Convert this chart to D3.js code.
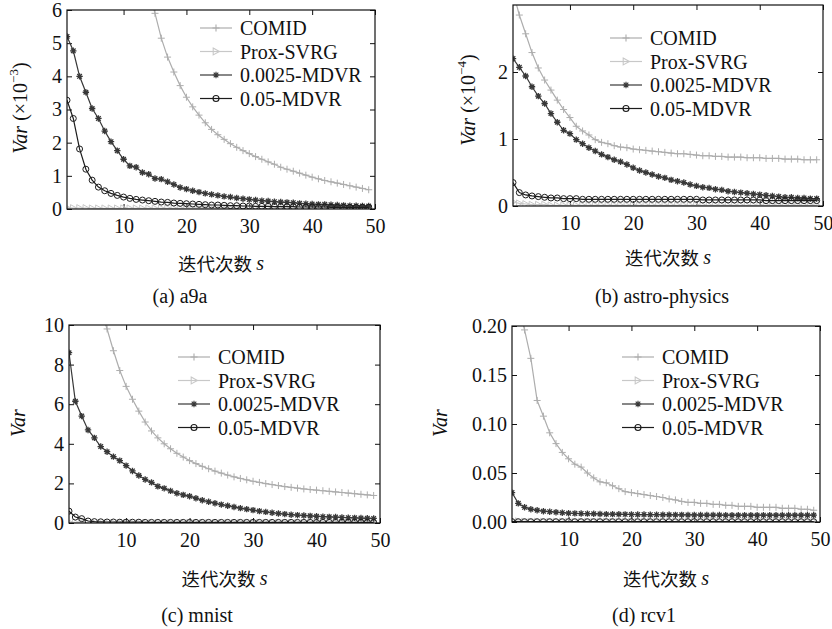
<!DOCTYPE html>
<html>
<head>
<meta charset="utf-8">
<script src="https://cdn.jsdelivr.net/npm/d3@7"></script>
<style>
  body { margin: 0; background: #fff; }
</style>
</head>
<body>
<svg id="chart" width="832" height="629"></svg>
<script>
const SERIF = '"Liberation Serif", "Times New Roman", serif';
const CJK = '"Noto Sans CJK SC", sans-serif';

// iteration s = 1..49, x axis runs 1..50
const iterations = d3.range(1, 50);
const seriesNames = ["COMID", "Prox-SVRG", "0.0025-MDVR", "0.05-MDVR"];

// --- (a) a9a, Var x 1e-3 ---
const a9aComid = [null,null,null,null,null,null,null,null,null,null,null,null,null,
  6.6,5.9,5.15,4.58,4.13,3.72,3.37,3.08,2.83,2.6,2.4,2.24,2.1,1.97,1.86,1.76,1.67,1.58,1.5,1.42,
  1.35,1.26,1.2,1.14,1.08,1.02,0.96,0.91,0.86,0.82,0.78,0.74,0.7,0.66,0.62,0.58];
const a9aProx = [0.04,0.03,0.03,0.03,0.02,0.02,0.02,0.02,0.02,0.02,
  0.02,0.02,0.02,0.02,0.02,0.02,0.02,0.02,0.02,0.02,
  0.02,0.02,0.02,0.02,0.02,0.02,0.02,0.02,0.02,0.01,
  0.01,0.01,0.01,0.01,0.01,0.01,0.01,0.01,0.01,0.01,
  0.01,0.01,0.01,0.01,0.01,0.01,0.01,0.01,0.01];
const a9aM0025 = [5.2,4.77,4.0,3.52,3.03,2.73,2.35,2.03,1.76,1.5,
  1.3,1.26,1.1,1.05,0.92,0.9,0.82,0.74,0.65,0.6,
  0.55,0.51,0.47,0.44,0.41,0.38,0.36,0.33,0.31,0.29,
  0.27,0.25,0.24,0.22,0.21,0.2,0.19,0.17,0.16,0.15,
  0.14,0.14,0.13,0.12,0.11,0.1,0.1,0.09,0.09];
const a9aM005 = [3.28,2.73,1.81,1.2,0.87,0.66,0.55,0.47,0.41,0.36,
  0.32,0.29,0.27,0.25,0.23,0.21,0.2,0.18,0.17,0.16,
  0.15,0.14,0.13,0.12,0.12,0.11,0.1,0.1,0.09,0.09,
  0.08,0.08,0.08,0.07,0.07,0.07,0.07,0.06,0.06,0.06,
  0.06,0.06,0.05,0.05,0.05,0.05,0.05,0.05,0.05];

// --- (b) astro-physics, Var x 1e-4 ---
const astroComid = [3.2,2.85,2.57,2.29,2.06,1.88,1.73,1.58,1.44,1.32,
  1.19,1.12,1.06,0.99,0.95,0.93,0.9,0.88,0.87,0.85,
  0.84,0.83,0.82,0.81,0.8,0.79,0.78,0.78,0.77,0.76,
  0.75,0.75,0.74,0.74,0.73,0.73,0.73,0.72,0.72,0.72,
  0.71,0.71,0.71,0.7,0.7,0.7,0.69,0.69,0.69];
const astroProx = [0.06,0.04,0.03,0.02,0.02,0.02,0.01,0.01,0.01,0.01,
  0.01,0.01,0.01,0.01,0.01,0.01,0.01,0.01,0.01,0.01,
  0.01,0.01,0.01,0.01,0.01,0.01,0.01,0.01,0.01,0.01,
  0.01,0.01,0.01,0.01,0.01,0.01,0.01,0.01,0.01,0.01,
  0.01,0.01,0.01,0.01,0.01,0.01,0.01,0.01,0.01];
const astroM0025 = [2.2,2.07,1.94,1.78,1.64,1.53,1.38,1.25,1.13,1.08,
  0.99,0.93,0.87,0.82,0.77,0.73,0.69,0.66,0.62,0.57,
  0.53,0.5,0.47,0.44,0.42,0.39,0.37,0.35,0.32,0.3,
  0.28,0.27,0.25,0.24,0.22,0.21,0.2,0.19,0.18,0.17,
  0.16,0.15,0.14,0.13,0.13,0.12,0.12,0.11,0.11];
const astroM005 = [0.35,0.2,0.165,0.15,0.14,0.13,0.12,0.12,0.11,0.11,
  0.11,0.1,0.1,0.1,0.1,0.1,0.1,0.1,0.1,0.1,
  0.1,0.1,0.1,0.1,0.1,0.1,0.1,0.1,0.1,0.1,
  0.09,0.09,0.09,0.09,0.09,0.09,0.09,0.09,0.09,0.09,
  0.08,0.08,0.08,0.08,0.08,0.08,0.08,0.08,0.08];

// --- (c) mnist ---
const mnistComid = [null,null,null,null,null,10.8,9.8,8.7,7.7,6.9,
  6.25,5.65,5.1,4.65,4.3,4.0,3.75,3.52,3.33,3.15,
  3.0,2.86,2.74,2.62,2.52,2.42,2.33,2.25,2.18,2.11,
  2.05,1.99,1.94,1.89,1.84,1.8,1.76,1.72,1.69,1.66,
  1.63,1.6,1.57,1.54,1.51,1.48,1.45,1.42,1.39];
const mnistProx = [0.05,0.03,0.02,0.02,0.01,0.01,0.01,0.01,0.01,0.01,
  0.01,0.01,0.01,0.01,0.01,0.01,0.01,0.01,0.01,0.01,
  0.01,0.01,0.01,0.01,0.01,0.01,0.01,0.01,0.01,0.01,
  0.01,0.01,0.01,0.01,0.01,0.01,0.01,0.01,0.01,0.01,
  0.01,0.01,0.01,0.01,0.01,0.01,0.01,0.01,0.01];
const mnistM0025 = [8.6,6.15,5.4,4.7,4.3,3.86,3.6,3.35,3.15,2.9,
  2.63,2.4,2.2,2.05,1.85,1.75,1.62,1.5,1.42,1.35,
  1.25,1.15,1.07,1.0,0.93,0.87,0.81,0.75,0.7,0.65,
  0.6,0.56,0.52,0.48,0.45,0.42,0.4,0.38,0.36,0.34,
  0.32,0.31,0.3,0.28,0.27,0.26,0.25,0.24,0.23];
const mnistM005 = [0.6,0.3,0.22,0.1,0.07,0.06,0.05,0.05,0.04,0.04,
  0.04,0.04,0.03,0.03,0.03,0.03,0.03,0.03,0.03,0.03,
  0.03,0.03,0.03,0.03,0.03,0.03,0.03,0.03,0.03,0.03,
  0.03,0.03,0.03,0.03,0.03,0.03,0.03,0.03,0.03,0.03,
  0.03,0.03,0.03,0.03,0.03,0.03,0.03,0.03,0.03];

// --- (d) rcv1 ---
const rcv1Comid = [0.27,0.22,0.196,0.167,0.124,0.108,0.091,0.08,0.071,0.0645,
  0.059,0.056,0.05,0.045,0.041,0.04,0.037,0.034,0.031,0.03,
  0.029,0.028,0.027,0.026,0.025,0.0235,0.0225,0.021,0.02,0.02,
  0.019,0.019,0.018,0.018,0.017,0.017,0.016,0.016,0.016,0.015,
  0.015,0.015,0.015,0.014,0.014,0.014,0.013,0.013,0.012];
const rcv1Prox = [0.001,0.0008,0.0006,0.0005,0.0005,0.0005,0.0005,0.0005,0.0005,0.0005,
  0.0005,0.0005,0.0005,0.0005,0.0005,0.0005,0.0005,0.0005,0.0005,0.0005,
  0.0005,0.0005,0.0005,0.0005,0.0005,0.0005,0.0005,0.0005,0.0005,0.0005,
  0.0005,0.0005,0.0005,0.0005,0.0005,0.0005,0.0005,0.0005,0.0005,0.0005,
  0.0005,0.0005,0.0005,0.0005,0.0005,0.0005,0.0005,0.0005,0.0005];
const rcv1M0025 = [0.03,0.019,0.015,0.013,0.012,0.011,0.0105,0.01,0.0095,0.009,
  0.0088,0.0086,0.0085,0.0084,0.0082,0.008,0.008,0.0079,0.0078,0.0077,
  0.0076,0.0076,0.0075,0.0075,0.0074,0.0074,0.0073,0.0073,0.0072,0.0072,
  0.0071,0.0071,0.0071,0.0071,0.007,0.007,0.007,0.007,0.007,0.007,
  0.007,0.007,0.007,0.007,0.007,0.007,0.007,0.007,0.007];
const rcv1M005 = [0.0004,0.0003,0.0003,0.0003,0.0003,0.0003,0.0003,0.0003,0.0003,0.0003,
  0.0003,0.0003,0.0003,0.0003,0.0003,0.0003,0.0003,0.0003,0.0003,0.0003,
  0.0003,0.0003,0.0003,0.0003,0.0003,0.0003,0.0003,0.0003,0.0003,0.0003,
  0.0003,0.0003,0.0003,0.0003,0.0003,0.0003,0.0003,0.0003,0.0003,0.0003,
  0.0003,0.0003,0.0003,0.0003,0.0003,0.0003,0.0003,0.0003,0.0003];

const xTicks = [10, 20, 30, 40, 50];
const captions = ["(a) a9a", "(b) astro-physics", "(c) mnist", "(d) rcv1"];

// style per series
const styles = [
  {color: "#adadad", marker: "plus"},
  {color: "#c8c8c8", marker: "tri"},
  {color: "#383838", marker: "star"},
  {color: "#1c1c1c", marker: "circle"}
];

const markerPath = {
  plus: "M-3.5,0H3.5M0,-3.5V3.5",
  tri: "M-2.8,-3.4L3.4,0L-2.8,3.4Z",
  star: "M-3.2,0H3.2M0,-3.2V3.2M-2.3,-2.3L2.3,2.3M-2.3,2.3L2.3,-2.3",
  circle: "M3,0A3,3 0 1,1 -3,0A3,3 0 1,1 3,0Z"
};

const panels = [
  {id: "a", left: 67, right: 375, top: 10, bottom: 209, yDomain: [0, 6], yTicks: [0,1,2,3,4,5,6], fmt: d3.format("d"),
   exp: "−3", legX: 200, legY: 28, yLabX: 20, yLabY: 108, xLabY: 263, capX: 180, capY: 296,
   data: [a9aComid, a9aProx, a9aM0025, a9aM005]},
  {id: "b", left: 513, right: 823, top: 5, bottom: 206, yDomain: [0, 3], yTicks: [0,1,2], fmt: d3.format("d"),
   exp: "−4", legX: 610, legY: 38, yLabX: 468, yLabY: 100, xLabY: 257, capX: 662, capY: 296,
   data: [astroComid, astroProx, astroM0025, astroM005]},
  {id: "c", left: 69, right: 380, top: 325, bottom: 523, yDomain: [0, 10], yTicks: [0,2,4,6,8,10], fmt: d3.format("d"),
   exp: null, legX: 178, legY: 357, yLabX: 18, yLabY: 423, xLabY: 578, capX: 197, capY: 615,
   data: [mnistComid, mnistProx, mnistM0025, mnistM005]},
  {id: "d", left: 512, right: 820, top: 326, bottom: 522, yDomain: [0, 0.2], yTicks: [0,0.05,0.1,0.15,0.2], fmt: d3.format(".2f"),
   exp: null, legX: 622, legY: 357, yLabX: 440, yLabY: 423, xLabY: 578, capX: 644, capY: 615,
   data: [rcv1Comid, rcv1Prox, rcv1M0025, rcv1M005]}
];

const svg = d3.select("#chart");
svg.append("rect").attr("width", 832).attr("height", 629).attr("fill", "#fff");

panels.forEach((p, i) => drawPanel(p, captions[i]));

function drawPanel(p, caption) {
  const x = d3.scaleLinear().domain([1, 50]).range([p.left, p.right]);
  const y = d3.scaleLinear().domain(p.yDomain).range([p.bottom, p.top]);
  const g = svg.append("g");

  g.append("clipPath").attr("id", "clip-" + p.id)
    .append("rect")
    .attr("x", p.left).attr("y", p.top)
    .attr("width", p.right - p.left).attr("height", p.bottom - p.top);

  // axes, ticks pointing inward on all four sides
  g.append("g").attr("transform", `translate(0,${p.bottom})`)
    .call(d3.axisBottom(x).tickValues(xTicks).tickSize(-5).tickPadding(10));
  g.append("g").attr("transform", `translate(${p.left},0)`)
    .call(d3.axisLeft(y).tickValues(p.yTicks).tickFormat(p.fmt).tickSize(-5).tickPadding(5));
  g.append("g").attr("transform", `translate(0,${p.top})`)
    .call(d3.axisTop(x).tickValues(xTicks).tickSize(-5).tickFormat(""));
  g.append("g").attr("transform", `translate(${p.right},0)`)
    .call(d3.axisRight(y).tickValues(p.yTicks).tickSize(-5).tickFormat(""));
  g.selectAll(".domain").remove();
  g.selectAll(".tick line").attr("stroke", "#111");
  g.selectAll(".tick text")
    .style("font-family", SERIF)
    .style("font-size", "20px")
    .attr("fill", "#111");

  // series lines + markers
  const plot = g.append("g").attr("clip-path", `url(#clip-${p.id})`);
  p.data.forEach((vals, k) => {
    const st = styles[k];
    const pts = iterations.map((s, j) => ({s: s, v: vals[j]})).filter(d => d.v != null);
    const line = d3.line().x(d => x(d.s)).y(d => y(d.v));
    plot.append("path").datum(pts)
      .attr("d", line)
      .attr("fill", "none")
      .attr("stroke", st.color)
      .attr("stroke-width", 1.2);
    plot.append("g").selectAll("path")
      .data(pts)
      .join("path")
      .attr("transform", d => `translate(${x(d.s)},${y(d.v)})`)
      .attr("d", markerPath[st.marker])
      .attr("fill", "none")
      .attr("stroke", st.color)
      .attr("stroke-width", st.marker === "star" ? 1.3 : 1);
  });

  // box
  g.append("rect")
    .attr("x", p.left).attr("y", p.top)
    .attr("width", p.right - p.left).attr("height", p.bottom - p.top)
    .attr("fill", "none").attr("stroke", "#111").attr("stroke-width", 1.2);

  // legend
  const leg = g.append("g");
  seriesNames.forEach((name, k) => {
    const st = styles[k];
    const ly = p.legY + k * 23.5;
    leg.append("line")
      .attr("x1", p.legX).attr("x2", p.legX + 32)
      .attr("y1", ly).attr("y2", ly)
      .attr("stroke", st.color).attr("stroke-width", 1.2);
    leg.append("path")
      .attr("transform", `translate(${p.legX + 16},${ly})`)
      .attr("d", markerPath[st.marker])
      .attr("fill", "none").attr("stroke", st.color).attr("stroke-width", 1.1);
    leg.append("text")
      .attr("x", p.legX + 40).attr("y", ly)
      .attr("dominant-baseline", "central")
      .style("font-family", SERIF)
      .style("font-size", "20px")
      .attr("fill", "#111")
      .text(name);
  });

  // y label
  const yl = g.append("text")
    .attr("transform", `translate(${p.yLabX},${p.yLabY}) rotate(-90)`)
    .attr("text-anchor", "middle")
    .attr("dominant-baseline", "central")
    .style("font-family", SERIF)
    .style("font-size", "20px")
    .attr("fill", "#111");
  yl.append("tspan").style("font-style", "italic").text("Var");
  if (p.exp) {
    yl.append("tspan").text(" (×10");
    yl.append("tspan").attr("dy", -7).style("font-size", "13px").text(p.exp);
    yl.append("tspan").attr("dy", 7).text(")");
  }

  // x label
  const xl = g.append("text")
    .attr("x", (p.left + p.right) / 2).attr("y", p.xLabY)
    .attr("text-anchor", "middle")
    .attr("dominant-baseline", "central")
    .attr("fill", "#111");
  xl.append("tspan").style("font-family", CJK).style("font-size", "18.5px").text("迭代次数 ");
  xl.append("tspan").style("font-family", SERIF).style("font-style", "italic").style("font-size", "20px").text("s");

  // caption
  g.append("text")
    .attr("x", p.capX).attr("y", p.capY)
    .attr("text-anchor", "middle")
    .attr("dominant-baseline", "central")
    .style("font-family", SERIF)
    .style("font-size", "20px")
    .attr("fill", "#111")
    .text(caption);
}
</script>
</body>
</html>
